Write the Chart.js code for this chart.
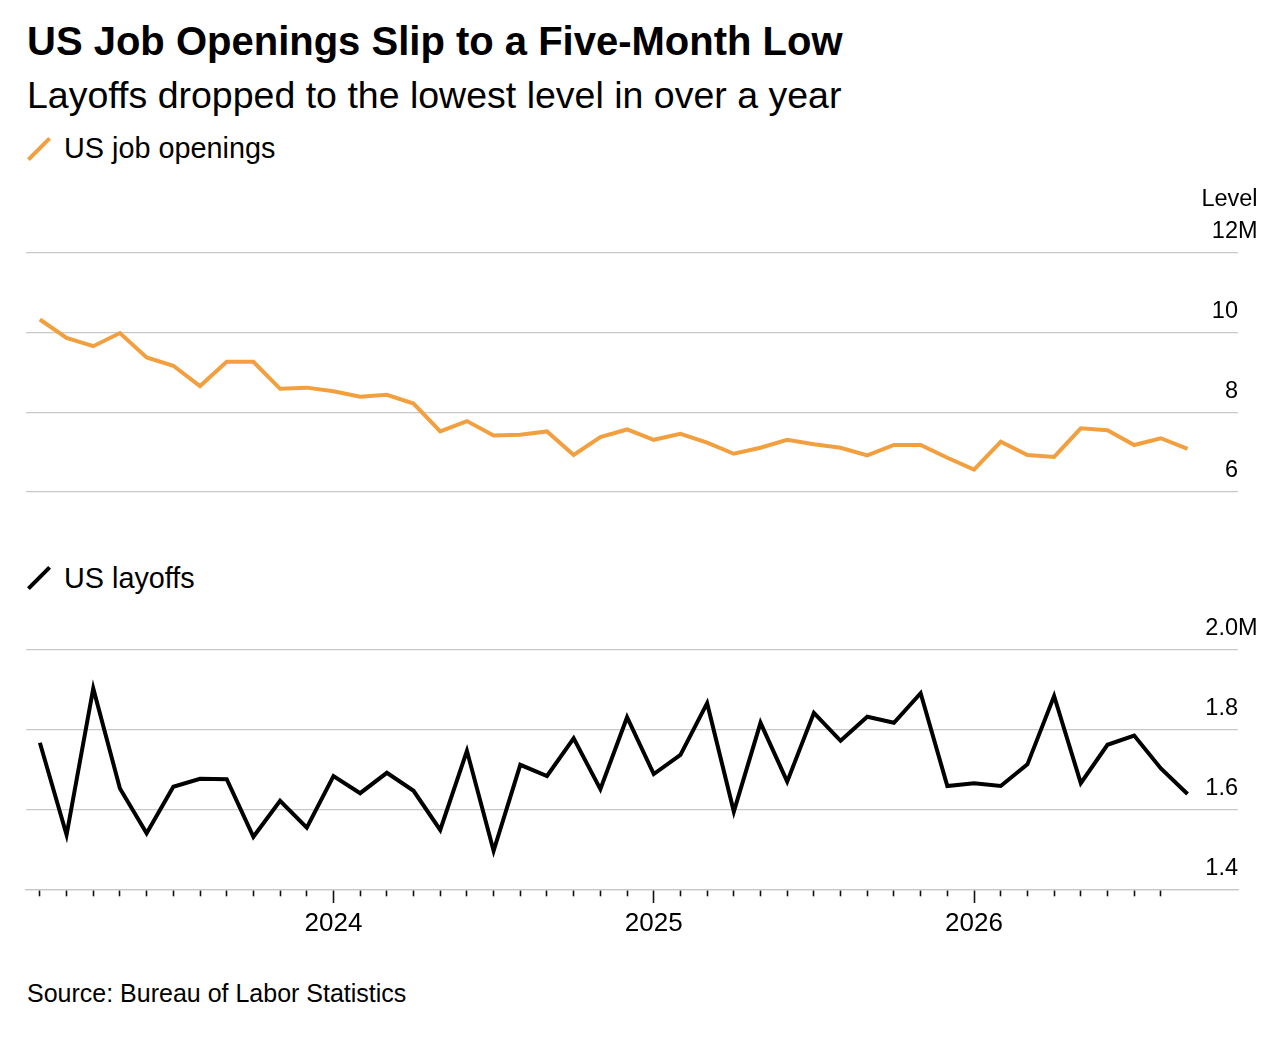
<!DOCTYPE html>
<html>
<head>
<meta charset="utf-8">
<script src="https://cdn.jsdelivr.net/npm/chart.js@4.4.1/dist/chart.umd.min.js"></script>
<style>
body { margin: 0; background: #fff; font-family: "Liberation Sans", Arial, sans-serif; color: #000; }
#wrap { position: relative; width: 1278px; height: 1054px; overflow: hidden; }
.txt { position: absolute; left: 27px; white-space: nowrap; line-height: 1; }
#title { top: 21px; font-size: 40px; font-weight: bold; }
#subtitle { top: 77px; font-size: 37.5px; }
.legend { left: 64px; font-size: 28.8px; }
#leg1 { top: 134px; }
#leg2 { top: 564px; }
#source { top: 981px; font-size: 25px; }
.swatch { position: absolute; left: 23.5px; width: 30px; height: 4px; transform: rotate(-45deg); }
#sw1 { top: 146.5px; background: #f2a03f; }
#sw2 { top: 576px; background: #000; }
.box { position: absolute; left: 0; width: 1278px; }
#boxTop { top: 180px; height: 330px; }
#boxBottom { top: 600px; height: 360px; }
</style>
</head>
<body>
<div id="wrap">
  <div class="txt" id="title">US Job Openings Slip to a Five-Month Low</div>
  <div class="txt" id="subtitle">Layoffs dropped to the lowest level in over a year</div>
  <div class="swatch" id="sw1"></div>
  <div class="txt legend" id="leg1">US job openings</div>
  <div class="box" id="boxTop"><canvas id="openingsChart"></canvas></div>
  <div class="swatch" id="sw2"></div>
  <div class="txt legend" id="leg2">US layoffs</div>
  <div class="box" id="boxBottom"><canvas id="layoffsChart"></canvas></div>
  <div class="txt" id="source">Source: Bureau of Labor Statistics</div>
</div>
<script>
// meses, feb 2023 a sep 2026
var months = [
  '2023-02','2023-03','2023-04','2023-05','2023-06','2023-07','2023-08','2023-09','2023-10','2023-11','2023-12',
  '2024-01','2024-02','2024-03','2024-04','2024-05','2024-06','2024-07','2024-08','2024-09','2024-10','2024-11','2024-12',
  '2025-01','2025-02','2025-03','2025-04','2025-05','2025-06','2025-07','2025-08','2025-09','2025-10','2025-11','2025-12',
  '2026-01','2026-02','2026-03','2026-04','2026-05','2026-06','2026-07','2026-08','2026-09'
];

// vacantes, millones
var openings = [
  10.33, 9.87, 9.66, 9.99, 9.38, 9.17, 8.66, 9.27, 9.27, 8.59, 8.62,
  8.53, 8.39, 8.44, 8.22, 7.52, 7.78, 7.42, 7.44, 7.52, 6.93, 7.38, 7.57,
  7.31, 7.46, 7.24, 6.96, 7.11, 7.31, 7.20, 7.11, 6.92, 7.18, 7.18, 6.86,
  6.56, 7.26, 6.93, 6.88, 7.60, 7.55, 7.18, 7.35, 7.08
];

// despidos, millones
var layoffs = [
  1.768, 1.538, 1.904, 1.654, 1.542, 1.658, 1.678, 1.677, 1.533, 1.623, 1.556,
  1.685, 1.642, 1.693, 1.648, 1.550, 1.748, 1.498, 1.713, 1.685, 1.779, 1.652, 1.832,
  1.690, 1.738, 1.867, 1.596, 1.818, 1.671, 1.843, 1.773, 1.833, 1.818, 1.892, 1.660,
  1.667, 1.660, 1.714, 1.885, 1.667, 1.763, 1.786, 1.704, 1.640
];

var openingsTicks = [6, 8, 10, 12];
var layoffsTicks = [1.4, 1.6, 1.8, 2.0];

var FONT = "'Liberation Sans', Arial, sans-serif";
var ORANGE = '#f2a03f';
var GRID = '#c8c8c8';
var LABEL_OFFSET = -21;

Chart.defaults.font.family = FONT;
Chart.defaults.color = '#000';

function isYear(i) {
  return months[i] && months[i].slice(5) === '01';
}

// la "M" y el titulo "Level" junto a la etiqueta de arriba
var unitLabel = {
  id: 'unitLabel',
  afterDraw: function (chart, args, opts) {
    var y = chart.scales.y;
    var ctx = chart.ctx;
    var py = y.getPixelForValue(y.max) + LABEL_OFFSET;
    var x = chart.chartArea.right;
    ctx.save();
    ctx.font = opts.size + 'px ' + FONT;
    ctx.fillStyle = '#000';
    ctx.textBaseline = 'middle';
    ctx.textAlign = 'left';
    ctx.fillText(opts.unit, x, py);
    var w = ctx.measureText(opts.unit).width;
    if (opts.title) {
      ctx.textAlign = 'right';
      ctx.fillText(opts.title, x + w, py - 32);
    }
    ctx.restore();
  }
};

function xScale(show) {
  return {
    type: 'linear',
    min: -0.52,
    max: months.length - 1 + 1.89,
    display: show,
    afterBuildTicks: function (scale) {
      var t = [];
      for (var i = 0; i < months.length - 1; i++) t.push({ value: i });
      scale.ticks = t;
    },
    afterFit: function (scale) { if (show) scale.height = 70; },
    grid: {
      drawOnChartArea: false,
      drawTicks: true,
      tickLength: 13,
      tickWidth: 1.6,
      tickColor: '#111',
      tickBorderDash: function (c) { return isYear(c.tick ? c.tick.value : c.index) ? [] : [6, 40]; }
    },
    border: { display: show, color: GRID, width: 1.3 },
    ticks: {
      autoSkip: false,
      maxRotation: 0,
      padding: 5,
      font: { size: 26 },
      color: '#000',
      callback: function (v) { return isYear(v) ? months[v].slice(0, 4) : ''; }
    }
  };
}

function yScale(min, max, list, fmt) {
  return {
    position: 'right',
    min: min,
    max: max,
    afterBuildTicks: function (scale) {
      scale.ticks = list.map(function (v) { return { value: v }; });
    },
    grid: { color: GRID, lineWidth: 1.3, drawTicks: false },
    border: { display: false },
    ticks: {
      mirror: true,
      padding: 0,
      labelOffset: LABEL_OFFSET,
      font: { size: 23.5 },
      color: '#000',
      callback: fmt
    }
  };
}

var grafTop = new Chart(document.getElementById('openingsChart'), {
  type: 'line',
  data: {
    datasets: [{
      label: 'US job openings',
      data: openings.map(function (v, i) { return { x: i, y: v }; }),
      borderColor: ORANGE,
      borderWidth: 4,
      pointRadius: 0,
      tension: 0,
      fill: false
    }]
  },
  options: {
    responsive: true,
    maintainAspectRatio: false,
    animation: false,
    layout: { padding: { left: 26, right: 40, top: 73, bottom: 18 } },
    plugins: {
      legend: { display: false },
      tooltip: { enabled: false },
      unitLabel: { unit: 'M', title: 'Level', size: 23.5 }
    },
    scales: {
      x: xScale(false),
      y: yScale(6, 12, openingsTicks, function (v) { return String(v); })
    }
  },
  plugins: [unitLabel]
});

var grafBottom = new Chart(document.getElementById('layoffsChart'), {
  type: 'line',
  data: {
    datasets: [{
      label: 'US layoffs',
      data: layoffs.map(function (v, i) { return { x: i, y: v }; }),
      borderColor: '#000',
      borderWidth: 4,
      pointRadius: 0,
      tension: 0,
      fill: false
    }]
  },
  options: {
    responsive: true,
    maintainAspectRatio: false,
    animation: false,
    layout: { padding: { left: 26, right: 40, top: 50, bottom: 0 } },
    plugins: {
      legend: { display: false },
      tooltip: { enabled: false },
      unitLabel: { unit: 'M', title: '', size: 23.5 }
    },
    scales: {
      x: xScale(true),
      y: yScale(1.4, 2.0, layoffsTicks, function (v) { return Number(v).toFixed(1); })
    }
  },
  plugins: [unitLabel]
});
</script>
</body>
</html>
